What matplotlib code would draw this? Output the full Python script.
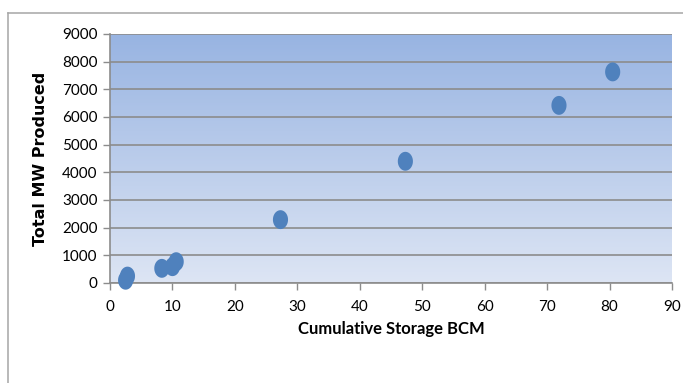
import numpy as np
import matplotlib
matplotlib.use("Agg")
import matplotlib.pyplot as plt
from matplotlib.path import Path
from matplotlib.lines import Line2D
from matplotlib.colors import LinearSegmentedColormap

plt.rcParams['font.family'] = ['Lato', 'DejaVu Sans']

# Cumulative reservoir storage vs. installed generating capacity
storage_bcm = [2.5, 2.8, 8.3, 10.0, 10.6, 27.3, 47.3, 71.9, 80.5]
total_mw = [100, 250, 530, 590, 770, 2290, 4400, 6420, 7630]

x_ticks = [0, 10, 20, 30, 40, 50, 60, 70, 80, 90]
y_ticks = [0, 1000, 2000, 3000, 4000, 5000, 6000, 7000, 8000, 9000]

W, H = 683, 383
fig = plt.figure(figsize=(W / 100, H / 100), dpi=100)
fig.patch.set_facecolor('white')

# chart frame (left and top edges visible)
frame_col = '#a6a6a6'
fig.add_artist(Line2D([8 / W, 8 / W], [0, 1 - 13 / H], transform=fig.transFigure,
                      color=frame_col, lw=1.1))
fig.add_artist(Line2D([8 / W, 1], [1 - 13 / H, 1 - 13 / H], transform=fig.transFigure,
                      color=frame_col, lw=1.1))

ax = fig.add_axes([110 / W, (H - 283) / H, 562 / W, 249 / H])

# vertical gradient fill of the plot area
cmap = LinearSegmentedColormap.from_list('bg', ['#dde5f4', '#98b4e2'])
grad = np.linspace(0, 1, 256).reshape(-1, 1)
ax.imshow(grad, cmap=cmap, origin='lower', aspect='auto',
          extent=[0, 1, 0, 1], transform=ax.transAxes, zorder=0)

# elliptical marker, slightly taller than wide
t = np.linspace(0, 2 * np.pi, 60)
ellipse = Path(np.column_stack([0.8 * np.cos(t), np.sin(t)]), closed=True)

ax.scatter(storage_bcm, total_mw, marker=ellipse, s=185, color='#4f81bd',
           edgecolors='none', zorder=3, clip_on=False)

ax.set_xlim(0, 90)
ax.set_ylim(0, 9000)
ax.set_xticks(x_ticks)
ax.set_yticks(y_ticks)
ax.set_xticklabels([str(v) for v in x_ticks])
ax.set_yticklabels([str(v) for v in y_ticks])

grid_col = '#8c8c8c'
ax.yaxis.grid(True, color=grid_col, lw=1.2, zorder=1)
ax.xaxis.grid(False)
ax.set_axisbelow(False)
for g in ax.get_ygridlines():
    g.set_zorder(1)

for side in ['top', 'right']:
    ax.spines[side].set_visible(False)
for side in ['left', 'bottom']:
    ax.spines[side].set_color(grid_col)
    ax.spines[side].set_linewidth(1.2)
    ax.spines[side].set_zorder(2)

ax.tick_params(axis='both', direction='out', length=5, width=1, color=grid_col,
               labelsize=11, labelcolor='black')
ax.tick_params(axis='x', pad=7)
ax.tick_params(axis='y', pad=4)

ax.set_xlabel('Cumulative Storage BCM', fontsize=12, fontweight='bold', labelpad=5)
ax.set_ylabel('Total MW Produced', fontsize=11.5, fontweight='bold', labelpad=10,
              family=['DejaVu Sans'])

fig.savefig('out.png', dpi=100)
